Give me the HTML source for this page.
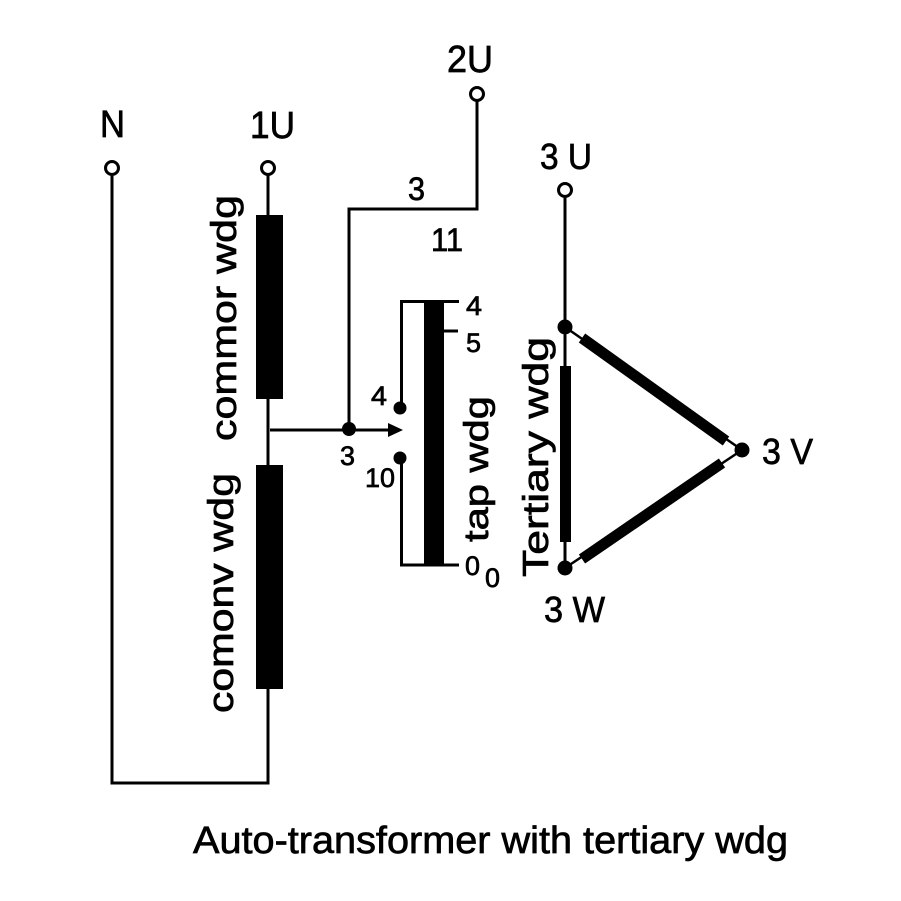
<!DOCTYPE html>
<html><head><meta charset="utf-8"><style>
html,body{margin:0;padding:0;background:#fff}
svg{display:block}
text{font-family:"Liberation Sans",sans-serif;fill:#000;stroke:#000;stroke-width:.7px}
</style></head><body>
<svg width="901" height="901" viewBox="0 0 901 901" xmlns="http://www.w3.org/2000/svg">
<rect width="901" height="901" fill="#fff"/>
<g fill="none" stroke="#000" stroke-width="3">
<path d="M112 176V783H268V175"/>
<path d="M270 430H392"/>
<path d="M349 428V209H477V101"/>
<path d="M459 301.500H401.500V408"/>
<path d="M401.500 458V565H459"/>
<path d="M444 331H458"/>
<path d="M565 198V568"/>
<path d="M565 327L742 450L565 568" stroke-width="2.500"/>
</g>
<rect x="256" y="215" width="27" height="184" fill="#000"/>
<rect x="256" y="465" width="27" height="224" fill="#000"/>
<rect x="424" y="302" width="20" height="263" fill="#000"/>
<rect x="560" y="366" width="11" height="176" fill="#000"/>
<path d="M582 338L726 441" stroke="#000" stroke-width="11" fill="none"/>
<path d="M582 559L722 463" stroke="#000" stroke-width="11" fill="none"/>
<path d="M388 423L403 430L388 437Z" fill="#000"/>
<g fill="#fff" stroke="#000" stroke-width="3">
<circle cx="112" cy="168" r="6.500"/>
<circle cx="268" cy="168" r="6.500"/>
<circle cx="477" cy="94" r="6.500"/>
<circle cx="565" cy="190" r="6.500"/>
</g>
<g fill="#000">
<circle cx="349" cy="429" r="7"/>
<circle cx="400" cy="408" r="6.500"/>
<circle cx="400" cy="458" r="6.500"/>
<circle cx="565" cy="327" r="7.500"/>
<circle cx="565" cy="568" r="7.500"/>
<circle cx="742" cy="450" r="7.500"/>
</g>
<g font-size="38">
<text x="100" y="137" textLength="25" lengthAdjust="spacingAndGlyphs">N</text>
<text x="250" y="138" textLength="45" lengthAdjust="spacingAndGlyphs">1U</text>
<text x="447" y="72" textLength="46" lengthAdjust="spacingAndGlyphs">2U</text>
<text x="540" y="169" textLength="52" lengthAdjust="spacingAndGlyphs" font-size="36">3 U</text>
<text x="762" y="464" textLength="51" lengthAdjust="spacingAndGlyphs" font-size="36">3 V</text>
<text x="544" y="622" textLength="61" lengthAdjust="spacingAndGlyphs" font-size="36">3 W</text>
</g>
<g font-size="32">
<text x="408" y="200" textLength="17" lengthAdjust="spacingAndGlyphs">3</text>
<text x="431" y="251" textLength="32" lengthAdjust="spacingAndGlyphs">11</text>
</g>
<g font-size="27">
<text x="466" y="315" textLength="16" lengthAdjust="spacingAndGlyphs">4</text>
<text x="466" y="352" textLength="15" lengthAdjust="spacingAndGlyphs">5</text>
<text x="371" y="405" textLength="16" lengthAdjust="spacingAndGlyphs">4</text>
<text x="340" y="465" textLength="15" lengthAdjust="spacingAndGlyphs">3</text>
<text x="365" y="487" textLength="30" lengthAdjust="spacingAndGlyphs">10</text>
<text x="465" y="575" textLength="15" lengthAdjust="spacingAndGlyphs">0</text>
<text x="485" y="587" textLength="15" lengthAdjust="spacingAndGlyphs">0</text>
</g>
<g font-size="36">
<text transform="translate(236,441) rotate(-90)" textLength="246" lengthAdjust="spacingAndGlyphs">commor wdg</text>
<text transform="translate(233,713) rotate(-90)" textLength="240" lengthAdjust="spacingAndGlyphs">comonv wdg</text>
<text transform="translate(488,542) rotate(-90)" textLength="146" lengthAdjust="spacingAndGlyphs" font-size="34">tap wdg</text>
<text transform="translate(548,577) rotate(-90)" textLength="240" lengthAdjust="spacingAndGlyphs">Tertiary wdg</text>
</g>
<text x="193" y="853" font-size="38" textLength="595" lengthAdjust="spacingAndGlyphs">Auto-transformer with tertiary wdg</text>
</svg>
</body></html>
